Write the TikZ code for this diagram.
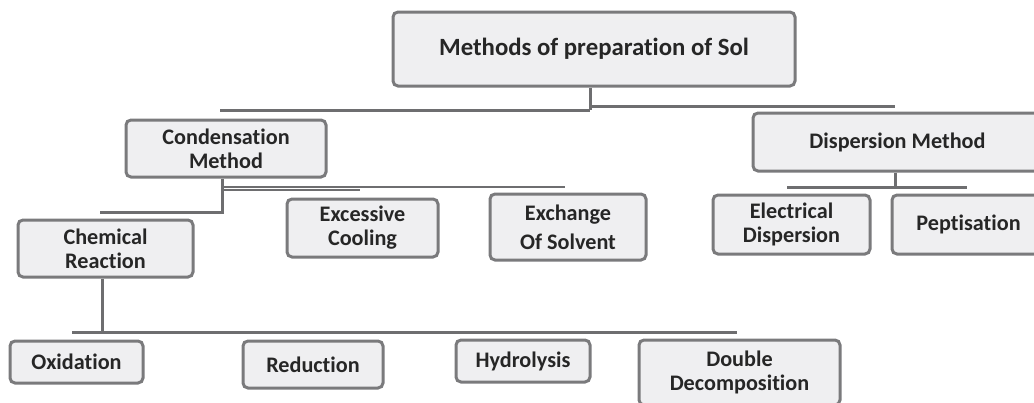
\documentclass[tikz,border=0pt]{standalone}
\usepackage{fontspec}
\setmainfont{Carlito}[Ligatures={NoCommon}]
\definecolor{boxline}{HTML}{7A7A7C}
\definecolor{boxfill}{HTML}{EFEFF1}
\definecolor{linec}{HTML}{6E6E70}
\definecolor{txt}{HTML}{262626}
\begin{document}
\begin{tikzpicture}[x=1pt,y=-1pt,
  box/.style={draw=boxline, line width=3pt, rounded corners=5pt, fill=boxfill,
    text=txt, align=center, inner sep=0pt, font=\fontsize{22.2}{24}\selectfont\bfseries},
  conn/.style={draw=linec, line width=3pt},
  thinconn/.style={draw=linec, line width=2pt}]
\useasboundingbox (0,0) rectangle (1034,402);
\clip (0,0) rectangle (1034,402);
% boxes
\node[box, minimum width=402pt, minimum height=74pt, font=\fontsize{24.8}{26}\selectfont\bfseries] (root) at (594,49) {Methods of preparation of Sol};
\node[box, minimum width=200pt, minimum height=57pt] (cond) at (226,148.5) {Condensation\\Method};
\node[box, minimum width=289pt, minimum height=58pt] (disp) at (897.5,142) {Dispersion Method};
\node[box, minimum width=175pt, minimum height=57pt] (chem) at (105.5,248.5) {Chemical\\Reaction};
\node[box, minimum width=151pt, minimum height=58pt] (cool) at (362.5,228) {Excessive\\Cooling};
\node[box, minimum width=156pt, minimum height=66pt] (exch) at (568,227) {Exchange\\[5pt]Of Solvent};
\node[box, minimum width=157pt, minimum height=59pt] (elec) at (791.5,224.5) {Electrical\\Dispersion};
\node[box, minimum width=153pt, minimum height=59pt] (pept) at (968.5,224.5) {Peptisation};
\node[box, minimum width=133pt, minimum height=42pt] (oxid) at (76.5,362) {Oxidation};
\node[box, minimum width=140pt, minimum height=47pt] (redu) at (313,364.5) {Reduction};
\node[box, minimum width=134pt, minimum height=42pt] (hydr) at (523,361) {Hydrolysis};
\node[box, minimum width=201pt, minimum height=65pt] (dbl) at (739.5,372.5) {Double\\Decomposition};
% connector coordinates
\coordinate (rootJ) at (590,110);
\coordinate (rootL) at (220,110);
\coordinate (rootR) at (895,106);
\coordinate (condJ) at (222,212);
\coordinate (condL) at (100,212);
\coordinate (condA) at (565,187);
\coordinate (condB) at (360,190);
\coordinate (dispL) at (787,187);
\coordinate (dispR) at (967,187);
\coordinate (chemJ) at (102,332);
\coordinate (chemL) at (72,332);
\coordinate (chemR) at (737,332);
% connectors
\draw[conn] (root.south -| rootJ) -- (rootJ);
\draw[conn] (rootL) -- (rootJ);
\draw[conn] (rootJ |- rootR) -- (rootR);
\draw[conn] (cond.south -| condJ) -- (condJ) -- (condL);
\draw[thinconn] (condJ |- condA) -- (condA);
\draw[thinconn] (condJ |- condB) -- (condB);
\draw[conn] (disp.south -| rootR) -- (rootR |- dispL);
\draw[conn] (dispL) -- (dispR);
\draw[conn] (chem.south -| chemJ) -- (chemJ);
\draw[conn] (chemL) -- (chemR);
\end{tikzpicture}
\end{document}
